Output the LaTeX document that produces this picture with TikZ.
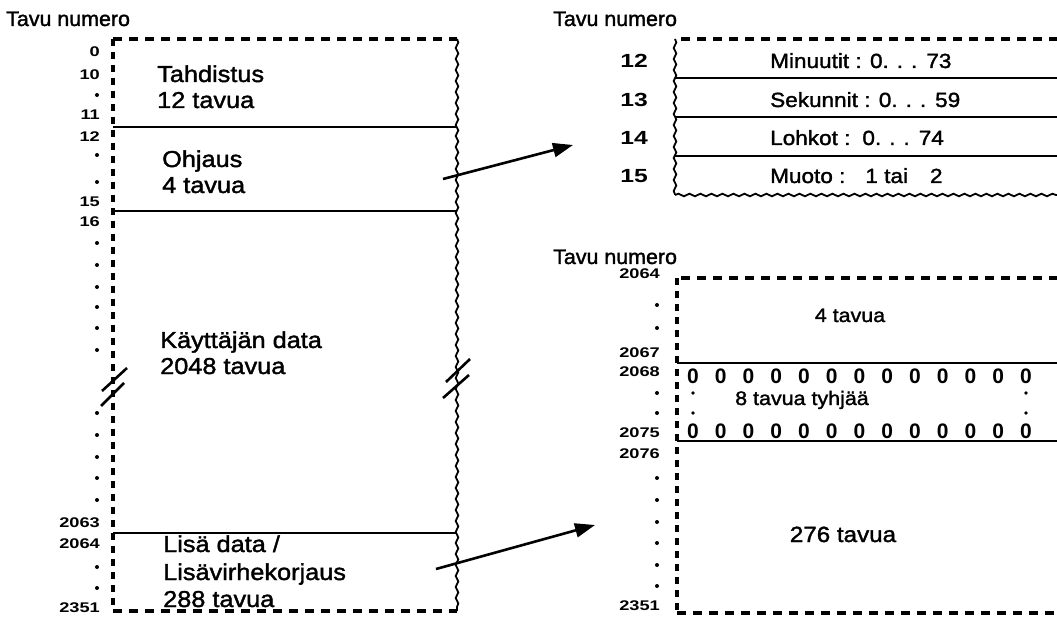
\documentclass[tikz,border=0pt]{standalone}
\usepackage{fontspec}
\setmainfont{Liberation Sans}[FakeStretch=1.1,FakeBold=1.6]
\newfontfamily\headfont{Liberation Sans}[FakeStretch=1.02,FakeBold=1.6]
\newfontfamily\numfont{Liberation Sans}[FakeStretch=1.3]
\newfontfamily\zerofont{Liberation Sans}
\usetikzlibrary{decorations.pathmorphing,arrows.meta}

\newcommand\ddd{0.\hspace{8pt}.\hspace{8pt}.\hspace{9pt}}

\begin{document}
\begin{tikzpicture}[x=1pt,y=-1pt,
  dashh/.style={line width=3.3pt,dash pattern=on 9pt off 7pt},
  dashv/.style={line width=3.1pt,dash pattern=on 7pt off 6pt},
  rowline/.style={line width=1.9pt},
  wavy/.style={line width=1.8pt,decorate,decoration={snake,segment length=11pt,amplitude=1.3pt}},
  breakmark/.style={line width=2.6pt},
  ptr/.style={line width=2.6pt,-{Triangle[length=20pt,width=14pt]}},
  head/.style={anchor=base west,inner sep=0pt,font=\headfont\fontsize{21}{25}\selectfont},
  lbl/.style={anchor=base west,inner sep=0pt,font=\fontsize{23}{27}\selectfont},
  fld/.style={anchor=base west,inner sep=0pt,font=\fontsize{20.5}{24}\selectfont},
  ctr/.style={anchor=base,inner sep=0pt,font=\fontsize{19.5}{23}\selectfont},
  num/.style={anchor=base east,inner sep=0pt,font=\numfont\bfseries\fontsize{14}{16}\selectfont},
  bignum/.style={anchor=base east,inner sep=0pt,font=\numfont\bfseries\fontsize{19}{22}\selectfont},
  zero/.style={anchor=base,inner sep=0pt,font=\zerofont\bfseries\fontsize{21}{24}\selectfont},
  dotmark/.style={fill,circle,inner sep=0pt,minimum size=4pt}]
\useasboundingbox (0,0) rectangle (1057,617);

% ---------- left: sector layout ----------
\node[head] (hl) at (6,26) {Tavu numero};

\draw[dashh] (113,39) -- (457,39);
\draw[dashh] (113,611) -- (457,611);
\draw[dashv] (113,39) -- (113,611);
\draw[wavy] (457,39) -- (457,611);
\foreach \yy in {127,211,533} \draw[rowline] (113,\yy) -- (457,\yy);

% break marks
\draw[breakmark] (102,391) -- (127,368);
\draw[breakmark] (101,406) -- (124,383);
\draw[breakmark] (446,382) -- (470,359);
\draw[breakmark] (443,398) -- (469,375);

\node[lbl] (l1) at (157,82)  {Tahdistus};
\node[lbl] (l2) at (157,108) {12 tavua};
\node[lbl] (l3) at (162,167) {Ohjaus};
\node[lbl] (l4) at (162,193) {4 tavua};
\node[lbl] (l5) at (160,348) {Käyttäjän data};
\node[lbl] (l6) at (160,374) {2048 tavua};
\node[lbl] (l7) at (163,552) {Lisä data /};
\node[lbl] (l8) at (163,580) {Lisävirhekorjaus};
\node[lbl] (l9) at (163,607) {288 tavua};

\foreach \t/\yy [count=\i] in {0/57,10/80,11/120,12/142,15/207,16/227,2063/527,2064/548,2351/612}
  \node[num] (ln\i) at (100,\yy) {\t};
\foreach \yy [count=\i] in {95,155,182,243,265,287,307,328,350,413,435,457,478,500,567,588}
  \node[dotmark] (ld\i) at (97,\yy) {};

% ---------- top right: control bytes ----------
\node[head] (hr1) at (553,26) {Tavu numero};

\draw[dashh] (681,39) -- (1060,39);
\draw[wavy] (675,39) -- (675,195);
\draw[wavy] (675,195) -- (1060,195);
\foreach \yy in {78,117,156} \draw[rowline] (675,\yy) -- (1060,\yy);

\foreach \t/\yy [count=\i] in {12/68,13/107,14/145,15/183}
  \node[bignum] (cn\i) at (648,\yy) {\t};

\node[fld] (f1) at (770,68)  {Minuutit : \ddd73};
\node[fld] (f2) at (770,107) {Sekunnit : \ddd59};
\node[fld] (f3) at (770,145) {Lohkot :\hspace{12pt}\ddd74};
\node[fld] (f4) at (770,183) {Muoto :\hspace{20pt}1 tai\hspace{22pt}2};

% ---------- bottom right: extra data ----------
\node[head] (hr2) at (553,264) {Tavu numero};

\draw[dashh] (681,278) -- (1060,278);
\draw[dashh] (677,613) -- (1060,613);
\draw[dashv] (677,278) -- (677,613);
\foreach \yy in {363,441} \draw[rowline] (677,\yy) -- (1060,\yy);

\foreach \t/\yy [count=\i] in {2064/279,2067/358,2068/377,2075/437,2076/458,2351/610}
  \node[num] (bn\i) at (660,\yy) {\t};
\foreach \yy [count=\i] in {305,328,393,413,478,500,522,543,565,586}
  \node[dotmark] (bd\i) at (657,\yy) {};

\node[ctr] (b1) at (850,322) {4 tavua};
\foreach \k in {0,...,12} {
  \node[zero] (za\k) at (693+27.75*\k,383) {0};
  \node[zero] (zb\k) at (693+27.75*\k,438) {0};
}
\foreach \yy [count=\i] in {393,413} {
  \node[dotmark,minimum size=3.6pt] (zl\i) at (693,\yy) {};
  \node[dotmark,minimum size=3.6pt] (zr\i) at (1026,\yy) {};
}
\node[ctr] (b2) at (802,405) {8 tavua tyhjää};
\node[ctr,font=\fontsize{22}{26}\selectfont] (b3) at (843,542) {276 tavua};

% ---------- pointers ----------
\coordinate (p1s) at (443,179);
\coordinate (p1e) at (573,145);
\coordinate (p2s) at (436,569);
\coordinate (p2e) at (595,525);
\draw[ptr] (p1s) -- (p1e);
\draw[ptr] (p2s) -- (p2e);
\end{tikzpicture}
\end{document}
